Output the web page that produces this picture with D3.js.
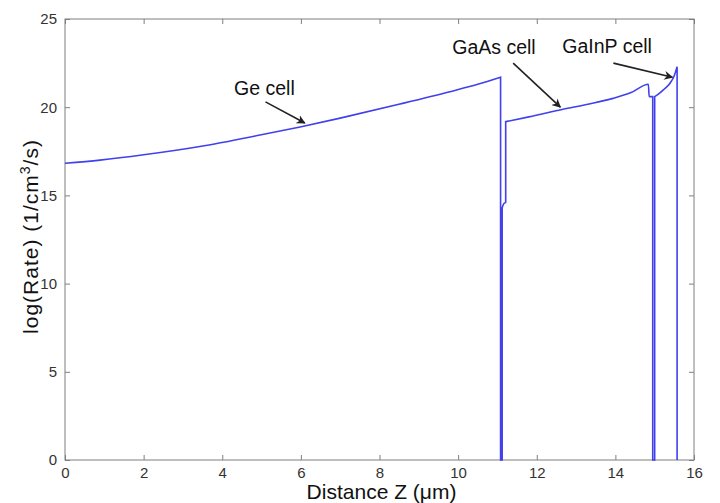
<!DOCTYPE html>
<html>
<head>
<meta charset="utf-8">
<script src="https://cdn.jsdelivr.net/npm/d3@7"></script>
<style>
  body { margin: 0; background: #fff; }
  text { font-family: "Liberation Sans", Arial, sans-serif; }
</style>
</head>
<body>
<div id="chart"></div>
<script>
// Ge cell: smooth rise, then falls to the bottom of the axis
var zGe = [0, 0.89, 2, 3.43, 4.96, 5.98, 7, 8.52, 9.79, 10.5, 11.08, 11.08, 11.12, 11.12, 11.17]
var rateGe = [16.82, 17.0, 17.3, 17.77, 18.42, 18.88, 19.38, 20.18, 20.88, 21.3, 21.7, 0, 0, 14.3, 14.55]

// GaAs cell
var zGaAs = [11.21, 11.21, 11.8, 12.67, 13.3, 13.94, 14.4, 14.84, 14.86, 14.95, 14.95, 15.0]
var rateGaAs = [14.6, 19.18, 19.45, 19.88, 20.17, 20.5, 20.83, 21.3, 20.6, 20.6, 0, 0]

// GaInP cell
var zGaInP = [15.0, 15.1, 15.22, 15.39, 15.5, 15.57, 15.57]
var rateGaInP = [20.6, 20.75, 20.98, 21.36, 21.8, 22.3, 0]

var xTicks = [0, 2, 4, 6, 8, 10, 12, 14, 16]
var yTicks = [0, 5, 10, 15, 20, 25]

// label text, point on the curve the arrow hits, text anchor point
var labels = ['Ge cell', 'GaAs cell', 'GaInP cell']
var labelTipZ = [6.1, 12.6, 15.45]
var labelTipRate = [19.1, 20.0, 21.7]
var labelTextZ = [4.3, 9.85, 12.65]
var labelTextRate = [21.1, 23.4, 23.45]
var labelTailZ = [5.1, 11.4, 13.95]
var labelTailRate = [20.3, 22.5, 22.5]

var width = 720
var height = 503
var margin = { top: 19, left: 65, right: 26, bottom: 43 }
var innerW = width - margin.left - margin.right
var innerH = height - margin.top - margin.bottom

var svg = d3
  .select('#chart')
  .append('svg')
  .attr('width', width)
  .attr('height', height)

svg.append('defs')
  .append('marker')
  .attr('id', 'arrow')
  .attr('viewBox', '0 0 10 10')
  .attr('refX', 9)
  .attr('refY', 5)
  .attr('markerWidth', 9)
  .attr('markerHeight', 9)
  .attr('markerUnits', 'userSpaceOnUse')
  .attr('orient', 'auto')
  .append('path')
  .attr('d', 'M0,0 L10,5 L0,10 L3,5 Z')
  .attr('fill', '#222')

var g = svg.append('g')
  .attr('transform', 'translate(' + margin.left + ',' + margin.top + ')')

var x = d3.scaleLinear().domain([0, 16]).range([0, innerW])
var y = d3.scaleLinear().domain([0, 25]).range([innerH, 0])

// box with ticks pointing inward on all four sides
var axisColor = '#7f7f7f'
function styleAxis(sel) {
  sel.select('.domain').remove()
  sel.selectAll('line').attr('stroke', axisColor)
  sel.selectAll('text')
    .attr('fill', '#333')
    .style('font-size', '15px')
}

g.append('g')
  .attr('transform', 'translate(0,' + innerH + ')')
  .call(d3.axisBottom(x).tickValues(xTicks).tickSize(-5).tickPadding(7).tickFormat(d3.format('d')))
  .call(styleAxis)

g.append('g')
  .call(d3.axisTop(x).tickValues(xTicks).tickSize(-5).tickFormat(''))
  .call(styleAxis)

g.append('g')
  .call(d3.axisLeft(y).tickValues(yTicks).tickSize(-5).tickPadding(8).tickFormat(d3.format('d')))
  .call(styleAxis)

g.append('g')
  .attr('transform', 'translate(' + innerW + ',0)')
  .call(d3.axisRight(y).tickValues(yTicks).tickSize(-5).tickFormat(''))
  .call(styleAxis)

g.append('rect')
  .attr('width', innerW)
  .attr('height', innerH)
  .attr('fill', 'none')
  .attr('stroke', axisColor)
  .attr('stroke-width', 1)

// one continuous trace through the three cells
var zAll = zGe.concat(zGaAs, zGaInP)
var rateAll = rateGe.concat(rateGaAs, rateGaInP)
var points = zAll.map(function(z, i) {
  return { z: z, rate: rateAll[i] }
})

// split into runs of increasing z: smooth inside a run, straight jumps between runs
var runs = [[points[0]]]
for (var i = 1; i < points.length; i++) {
  if (points[i].z === points[i - 1].z) runs.push([points[i]])
  else runs[runs.length - 1].push(points[i])
}

var smooth = d3.line()
  .x(d => x(d.z))
  .y(d => y(d.rate))
  .curve(d3.curveMonotoneX)

var pathD = ''
runs.forEach(function(run, k) {
  var seg = run.length > 1 ? smooth(run) : 'M' + x(run[0].z) + ',' + y(run[0].rate)
  if (k > 0) seg = 'L' + seg.slice(1)
  pathD += seg
})

g.append('path')
  .attr('d', pathD)
  .attr('fill', 'none')
  .attr('stroke', '#4040ee')
  .attr('stroke-width', 1.6)
  .attr('stroke-linejoin', 'miter')

// annotations
labels.forEach(function(label, i) {
  g.append('text')
    .attr('x', x(labelTextZ[i]))
    .attr('y', y(labelTextRate[i]))
    .attr('dy', '0.35em')
    .style('font-size', '19.5px')
    .attr('fill', '#111')
    .text(label)

  g.append('line')
    .attr('x1', x(labelTailZ[i]))
    .attr('y1', y(labelTailRate[i]))
    .attr('x2', x(labelTipZ[i]))
    .attr('y2', y(labelTipRate[i]))
    .attr('stroke', '#222')
    .attr('stroke-width', 1.6)
    .attr('marker-end', 'url(#arrow)')
})

// axis titles
svg.append('text')
  .attr('x', margin.left + innerW / 2 + 2)
  .attr('y', 499)
  .attr('text-anchor', 'middle')
  .style('font-size', '21px')
  .attr('fill', '#111')
  .text('Distance Z (\u03bcm)')

var yTitle = svg.append('text')
  .attr('transform', 'translate(38,' + (margin.top + innerH / 2 - 3) + ') rotate(-90)')
  .attr('text-anchor', 'middle')
  .style('font-size', '21px')
  .style('letter-spacing', '1px')
  .attr('fill', '#111')

yTitle.append('tspan').text('log(Rate) (1/cm')
yTitle.append('tspan').attr('dy', -8).style('font-size', '14px').text('3')
yTitle.append('tspan').attr('dy', 8).text('/s)')
</script>
</body>
</html>
